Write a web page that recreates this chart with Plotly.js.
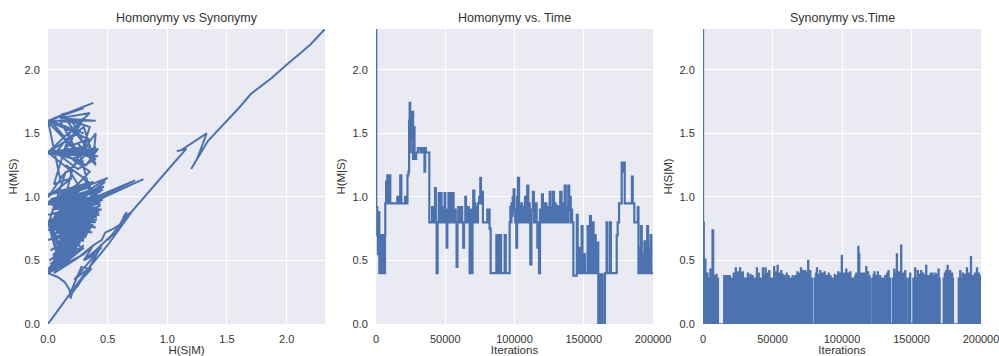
<!DOCTYPE html>
<html>
<head>
<meta charset="utf-8">
<script src="https://cdn.plot.ly/plotly-3.0.1.min.js"></script>
<style>html,body{margin:0;padding:0;background:#fff;}#chart{width:999px;height:356px;}</style>
</head>
<body>
<div id="chart"></div>
<script>
// ---------- Data ----------
// Panel 1: trajectory, pairs of [H(S|M), H(M|S)]
const scPath = [
  [2.32,2.32],[2.2,2.2],[2.1,2.12],[2.03,2.06],[2.09,2.11],[2.0,2.04],[1.88,1.94],[1.7,1.81],[1.6,1.7],[1.47,1.57],[1.34,1.44],[1.2,1.22],[1.25,1.3],[1.33,1.5],[1.12,1.37],[1.08,1.36],[1.16,1.38],[1.02,1.23],[0.9,1.1],[0.8,0.99],[0.72,0.9],[0.68,0.86],[0.63,0.84],[0.66,0.88],[0.6,0.78],[0.55,0.75],[0.48,0.72],[0.45,0.66],[0.38,0.62],
  [0.3,0.55],[0,0.4],[0.30,0.62],[0.01,0.41],[0.28,0.66],[0,0.4],[0.32,0.70],[0.02,0.42],[0.25,0.60],[0,0.4],[0.35,0.74],[0.01,0.41],[0.22,0.58],[0,0.4],[0.3,0.68],[0.02,0.41],[0.27,0.64],[0,0.4],[0.33,0.72],[0.01,0.42],[0.2,0.55],[0,0.4],[0.36,0.78],[0.02,0.41],[0.24,0.63],[0,0.4],[0.29,0.71],[0.01,0.41],[0.18,0.52],[0,0.4],[0.31,0.76],[0.02,0.42],[0.26,0.69],[0,0.4],[0.34,0.8],[0.01,0.41],[0.23,0.66],[0,0.4],[0.14,0.48],[0.3,0.6],
  [0.0,0.42],[0.22,0.6],[0.03,0.46],[0.26,0.64],[0.01,0.5],[0.28,0.68],[0.04,0.54],[0.3,0.72],[0.02,0.58],[0.32,0.74],[0.05,0.62],[0.34,0.77],[0.0,0.66],[0.36,0.8],[0.03,0.7],[0.38,0.83],[0.0,0.74],[0.4,0.86],[0.06,0.48],[0.2,0.56],[0.08,0.52],[0.24,0.62],[0.1,0.56],[0.27,0.67],[0.12,0.6],[0.3,0.7],[0.07,0.64],[0.33,0.75],[0.09,0.68],[0.35,0.79],[0.11,0.72],[0.37,0.82],[0.0,0.43],[0.18,0.58],[0.02,0.47],[0.21,0.63],[0.04,0.51],[0.25,0.69],[0.06,0.55],[0.29,0.74],[0.08,0.59],[0.31,0.78],[0.1,0.63],[0.34,0.83],
  [0,0.95],[0.4,1.05],[0.01,0.95],[0.35,0.85],[0,0.96],[0.3,1.1],[0.02,0.95],[0.45,1.0],[0,0.95],[0.25,1.08],[0.01,0.96],[0.42,0.9],[0,0.95],[0.38,1.12],[0.02,0.95],[0.2,1.05],[0,0.95],[0.47,1.08],[0.01,0.96],[0.33,0.95],[0,0.95],[0.4,0.98],[0.02,0.95],[0.28,0.9],[0,0.95],[0.44,1.04],[0.01,0.96],[0.36,1.1],[0,0.95],[0.22,0.98],[0.5,1.15],[0.15,1.02],
  [0.2,1.2],[0,1.35],[0.35,1.32],[0.02,1.35],[0.4,1.38],[0,1.36],[0.3,1.37],[0.01,1.35],[0.38,1.34],[0,1.35],[0.25,1.5],[0,1.6],[0.38,1.74],[0.05,1.62],[0.3,1.7],[0,1.6],[0.2,1.67],[0.12,1.65],[0.22,1.52],[0.3,1.42],[0.2,1.6],[0.35,1.55],[0.28,1.35],[0.4,1.5],[0.38,1.3],[0.25,1.42],[0.4,1.25],[0.3,1.55],[0.15,1.45],[0.05,1.33],[0.38,1.36],[0.1,1.35],[0.32,1.25],[0.42,1.38],[0.2,1.3],[0.35,1.2],[0.25,1.1],[0.15,1.25],[0.3,1.15],[0.35,1.05],[0.28,1.3],[0.1,1.6],[0.25,1.58],[0.18,1.4],[0.33,1.45],[0.22,1.25],[0.4,1.4],[0.1,1.15],
  [0,1.6],[0.35,1.45],[0.02,1.6],[0.3,1.5],[0,1.59],[0.25,1.35],[0.02,1.6],[0.4,1.6],[0.1,1.62],[0.35,1.66],[0,1.35],[0.3,1.28],[0.02,1.35],[0.42,1.32],[0,1.34],[0.36,1.4],[0.05,1.36],[0.25,1.22],[0.4,1.3],[0.15,1.38],[0.3,1.62],[0.18,1.5],[0.05,1.1],[0.2,1.15],[0.0,1.0],[0.15,1.2],
  [0,0.78],[0.4,0.88],[0.02,0.82],[0.42,0.92],[0,0.86],[0.44,0.96],[0.03,0.9],[0.43,1.0],[0,0.94],[0.4,1.04],[0.02,0.98],[0.36,1.08],[0,1.02],[0.3,1.1],[0.05,0.84],[0.38,0.8],[0.08,0.88],[0.41,0.84],[0.04,0.92],[0.45,0.9],[0.07,0.96],[0.44,0.94],[0.1,1.0],[0.42,0.98],[0.06,1.04],[0.38,1.02],[0.12,0.8],[0.4,0.76],[0.15,0.84],[0.43,0.86],[0.1,0.9],[0.46,1.02],[0.14,0.95],[0.35,1.12],[0.08,1.0],[0.25,1.1],[0.18,0.92],[0.39,0.9],[0.2,0.8],[0.37,0.72],
  [0,0.8],[0.4,0.85],[0.01,0.8],[0.35,0.72],[0,0.81],[0.42,0.95],[0.02,0.8],[0.3,0.65],[0,0.8],[0.45,1.0],[0.01,0.81],[0.38,0.78],[0,0.8],[0.4,0.9],[0.02,0.8],[0.28,0.6],[0,0.8],[0.43,0.88],[0.01,0.81],[0.32,0.68],[0,0.8],[0.44,0.93],[0.02,0.8],[0.36,0.75],[0,0.8],[0.41,0.82],[0.01,0.81],[0.25,0.58],[0,0.8],[0.46,0.98],[0.02,0.8],[0.33,0.7],[0,0.8],[0.39,0.87],[0.01,0.81],[0.3,0.66],[0,0.8],[0.42,0.92],[0.02,0.8],[0.37,0.8],[0,0.8],[0.15,0.5],[0.02,0.8],[0.1,0.46],[0,0.8],[0.48,1.12],[0.1,0.85],[0.73,1.13],[0.15,0.9],[0.4,0.8],[0.05,0.82],[0.8,1.14],[0.2,0.88],[0.4,1.03],[0.05,0.7],[0.2,0.62],[0.08,0.6],[0.3,0.8],[0.05,0.55],[0.25,0.75],[0.1,0.65],[0.38,0.98],[0.12,0.75],[0.45,1.1],
  [0.1,0.45],[0.35,0.8],[0.05,0.42],[0.3,0.72],[0.1,0.5],[0.38,0.85],[0,0.4],[0.08,0.37],[0.14,0.33],[0.18,0.27],[0.19,0.2],[0.2,0.24],[0.3,0.37],[0.36,0.43],[0.28,0.45],[0.19,0.25],[0.25,0.3],[0.34,0.44],[0.3,0.4],[0.36,0.45],[0.22,0.35],[0.4,0.55],[0.3,0.5],[0.45,0.62],[0.35,0.45],[0,0],[0.15,0.2],[0.35,0.45],[0.5,0.62],[0.6,0.75],[0.7,0.88],[0.65,0.85],[0.6,0.77],[0.67,0.86],[0.55,0.7],[0.62,0.8],[0.5,0.66],[0.58,0.74],[0.4,0.58],[0.45,0.6],[0.3,0.5],[0.38,0.62],[0.25,0.52],[0.05,0.4],[0.42,0.9],[0,0.8],[0.35,0.92],[0.1,0.95],[0.46,1.06],[0.02,0.8],[0.3,0.85],[0,0.95],[0.4,1.0]
];

// Panel 2: H(M|S) step levels, pairs of [iteration, value]
const homSteps = [
  [0,2.32],[200,0.92],[900,0.70],[1400,0.55],[1900,0.88],[2400,0.40],[2900,0.70],[3200,0.40],[3500,0.70],[3800,0.40],[4100,0.70],[4400,0.40],[4700,0.70],[5000,0.40],[5300,0.70],[5600,0.40],[5900,0.70],[6200,0.40],[6500,0.70],[6700,0.95],[7300,1.12],[7700,0.95],[8200,1.17],[8600,0.95],[9100,1.17],[9500,0.95],[9900,1.17],[10300,0.95],[15400,1.0],[15900,0.95],[17500,1.17],[18300,0.95],[21000,1.0],[21500,0.95],[22700,1.17],[23400,1.2],[23900,1.6],[24300,1.74],[24700,1.35],[25100,1.6],[25500,1.45],[26000,1.55],[26300,1.67],[26800,1.3],[27300,1.55],[27800,1.35],[28300,1.3],[29000,1.35],[30200,1.385],[32000,1.35],[33000,1.385],[34500,1.35],[35000,1.2],[35500,1.385],[36000,1.35],[38500,0.8],
  [40500,0.92],[41000,0.8],[42600,1.07],[43200,0.8],[43800,0.4],[44500,0.8],[45300,1.03],[45800,0.8],[46300,0.92],[46800,1.03],[47300,0.8],[48200,0.92],[48600,0.8],[49000,0.9],[49500,1.03],[50000,0.8],[51000,0.6],[51500,0.9],[52300,1.03],[53000,0.8],[53500,0.92],[54000,1.03],[54600,0.9],[55000,0.8],[55500,1.03],[56000,0.8],[57000,0.9],[57600,0.8],[58200,0.45],[58800,0.8],[59400,0.92],[60000,0.8],[60500,0.92],[61000,0.8],[61600,0.92],[62200,0.8],[63000,0.6],[63600,0.8],[64500,1.0],[65000,0.8],[65500,0.92],[66000,0.8],[66500,0.92],[67000,0.8],[67600,0.4],[68400,0.9],[69000,0.4],[69700,0.8],[70200,1.05],[71000,0.95],[71600,0.8],[72300,0.92],[72800,0.8],[73600,0.95],[74500,1.0],[75300,1.15],[75800,0.95],[76500,1.04],[77200,0.8],[80400,0.9],[82000,0.75],[82800,0.4],
  [86900,0.7],[87300,0.4],[87800,0.7],[88300,0.4],[88800,0.7],[89300,0.4],[89800,0.7],[90300,0.4],[92900,0.7],[93700,0.4],
  [96500,0.8],[97000,0.92],[97500,0.8],[97800,0.95],[98200,0.85],[98700,1.0],[99400,1.06],[100000,0.9],[100500,0.8],[101300,0.6],[101900,1.0],[102500,1.15],[103300,0.8],[104000,0.92],[104500,0.8],[105000,0.95],[105500,0.8],[106300,0.92],[107000,0.8],[107600,1.0],[108200,0.8],[109200,1.09],[110000,0.8],[110600,0.95],[111000,0.8],[111400,0.47],[112200,0.9],[113300,1.04],[114000,0.8],[114700,0.92],[115200,0.8],[115500,0.95],[116000,0.8],[116500,0.6],[117200,0.8],[117700,0.4],[118400,0.9],[119000,0.8],[119800,1.02],[120500,0.8],[121200,0.92],[121600,0.8],[122000,0.95],[123000,0.8],[123800,0.92],[124300,0.8],[125400,1.04],[126000,0.9],[126600,0.8],[127200,0.92],[127800,1.04],[128500,0.8],[129300,0.95],[129700,0.8],[130000,0.93],[131000,0.8],[131800,0.92],[132300,0.8],[133000,1.04],[134000,0.8],[134800,0.95],[135300,0.8],[136200,1.09],[137000,0.8],[137700,0.92],[138200,0.8],[138800,1.09],[139500,0.9],[140200,1.0],[140600,0.8],[141000,0.9],[141600,0.8],
  [142500,0.38],[145000,0.86],[145600,0.4],[146500,0.6],[146900,0.4],[148500,0.77],[149100,0.4],[150500,0.55],[150900,0.4],[152800,0.77],[153500,0.4],[154500,0.85],[155200,0.4],[156500,0.8],[157100,0.4],[158000,0.7],[158600,0.4],[160000,0.64],[160500,0],[161500,0.39],[162000,0],[163000,0.39],[163600,0],[165300,0.4],[166500,0.8],[167100,0.4],[169000,0.8],[169600,0.4],[173800,0.7],[174500,0.8],[175500,0.95],[177400,1.27],[178200,1.2],[179000,1.27],[179600,0.95],[184800,1.16],[185400,0.95],[186500,0.8],[189000,0.92],[189500,0.4],[190500,0.6],[190900,0.4],[191300,0.77],[191900,0.4],[193000,0.55],[193400,0.4],[193800,0.65],[194300,0.4],[195800,0.77],[196400,0.4],[197300,0.6],[197700,0.4],[198200,0.7],[198800,0.4],[200000,0.4]
];

// Panel 3: H(S|M) step levels, pairs of [iteration, value]
const synSteps = [
  [0,2.32],[300,0.80],[800,0.10],[1100,0.51],[2000,0.36],[3000,0.40],[3500,0.36],[5000,0.43],[5500,0.36],[6600,0.74],[7600,0.38],[8600,0.36],[9500,0.39],[10000,0.36],[11000,0],
  [15000,0.38],[16600,0],[17400,0.38],[19600,0],
  [20600,0.36],[21800,0.40],[22300,0.36],[23300,0.44],[23900,0.36],[24800,0.41],[25300,0.36],[26400,0.44],[27000,0.40],[28400,0.41],[29000,0.36],[30200,0],
  [30800,0.36],[32000,0.40],[32600,0.36],[33800,0.39],[34300,0.36],[35400,0.38],[36000,0.36],[37200,0],
  [37700,0.36],[38500,0.44],[39100,0.36],[39900,0.40],[40400,0.36],[41000,0],
  [42000,0.36],[42800,0.44],[43400,0.38],[44700,0.44],[45300,0.36],[46200,0.40],[46700,0.36],[47400,0.42],[48000,0.36],[49000,0],
  [49500,0.36],[50900,0.45],[51500,0.38],[52400,0.41],[52900,0.36],[53400,0.46],[54000,0.36],[55000,0.40],[55500,0.36],[56000,0.42],[56600,0.36],[57400,0.39],[57900,0.36],[58200,0.38],[58800,0.36],[60000,0.40],[60500,0.36],[61300,0.38],[61800,0.36],[62100,0],
  [63100,0.36],[64200,0.38],[64700,0.36],[66100,0.38],[66700,0.36],[67600,0.41],[68100,0.36],[68500,0.40],[69100,0.36],[70200,0.44],[70800,0.38],[71700,0.42],[72200,0.36],[73300,0.42],[73900,0.36],[74600,0.40],[75100,0.36],[75400,0.50],[76000,0.36],[76900,0.42],[77500,0.36],[79000,0],
  [80400,0.36],[81000,0.40],[81400,0.36],[81700,0.44],[82300,0.36],[83200,0.39],[83700,0.36],[84100,0.42],[84700,0.36],[85600,0.40],[86100,0.36],[87200,0.41],[87800,0.36],[88700,0.38],[89200,0.36],[90100,0.40],[90700,0.36],[91500,0.38],[92000,0.36],[92600,0],
  [93700,0.36],[94500,0.39],[95000,0.36],[95500,0.38],[96100,0.36],[97000,0.41],[97600,0.36],[98300,0.40],[98800,0.36],[99600,0.54],[100200,0.36],[101200,0.40],[101700,0.36],[102800,0.43],[103400,0.36],[104500,0.40],[105000,0.36],[105700,0.41],[106300,0.36],[107700,0],
  [108600,0.36],[109300,0.38],[109700,0.36],[110000,0.40],[110600,0.36],[111500,0.61],[112100,0.55],[112700,0.36],[113600,0.40],[114100,0.36],[114500,0.40],[115100,0.36],[116100,0.40],[116600,0.36],[117200,0.45],[117800,0.36],[118600,0.41],[119100,0.36],[119600,0.38],[120000,0.36],[120600,0],
  [121800,0.36],[122500,0.39],[122900,0.36],[123100,0.41],[123700,0.36],[124500,0.38],[124900,0.36],[125500,0.41],[126100,0.36],[127200,0.38],[127800,0.36],[129000,0],
  [130000,0.36],[130800,0.38],[131300,0.36],[132200,0.40],[132600,0.36],[133200,0.42],[133800,0.36],[135000,0],
  [136500,0.36],[137300,0.43],[137900,0.36],[138500,0.40],[139000,0.36],[139200,0.55],[139800,0.36],[140700,0.41],[141200,0.36],[142300,0.62],[142900,0.36],[143800,0.40],[144300,0.36],[145200,0.42],[145800,0.36],[146800,0],
  [148000,0.36],[148800,0.40],[149400,0],
  [151100,0.36],[152400,0.44],[153000,0.36],[154300,0.42],[154900,0.36],[155700,0.39],[156200,0.36],[156700,0.42],[157300,0.36],[158300,0.40],[158800,0.36],[159500,0.38],[159900,0.36],[160300,0.46],[160900,0.36],[162000,0.38],[162600,0.36],[163500,0.40],[164000,0.36],[164900,0.40],[165500,0.36],[166200,0.38],[166600,0.36],[167000,0.40],[167600,0.36],[168400,0.39],[168800,0.36],[169200,0.43],[169800,0.36],[170500,0],
  [172900,0.36],[173700,0.40],[174200,0.36],[174600,0.42],[175700,0.46],[176300,0.36],[177000,0.40],[177500,0.42],[178100,0.36],[179000,0.40],[179500,0.36],[180100,0],
  [183700,0.36],[184800,0.42],[185400,0.36],[186700,0.40],[187300,0.36],[188300,0.39],[188800,0.36],[189600,0.44],[190200,0.36],[191200,0.40],[191700,0.36],[192500,0.53],[193100,0.36],[194000,0.38],[194500,0.36],[195400,0.40],[195900,0.36],[196800,0.44],[197400,0.36],[198300,0.40],[198800,0.36],[199500,0.38],[200000,0.36]
];

const titles = ["Homonymy vs Synonymy", "Homonymy vs. Time", "Synonymy vs.Time"];
const xTitles = ["H(S|M)", "Iterations", "Iterations"];
const yTitles = ["H(M|S)", "H(M|S)", "H(S|M)"];
const hTicks = [0, 0.5, 1.0, 1.5, 2.0];
const hTickText = ["0.0", "0.5", "1.0", "1.5", "2.0"];
const iterTicks = [0, 50000, 100000, 150000, 200000];
const iterTickText = ["0", "50000", "100000", "150000", "200000"];
const hMax = 2.3219;
const iterMax = 200000;

// ---------- Styling ----------
const blue = "#4C72B0";
const textColor = "#333333";
const fontFam = "Liberation Sans, Arial, sans-serif";

const traces = [
  {x: scPath.map(p => p[0]), y: scPath.map(p => p[1]), type: "scatter", mode: "lines",
   line: {color: blue, width: 2}, xaxis: "x", yaxis: "y", hoverinfo: "skip"},
  {x: homSteps.map(p => p[0]), y: homSteps.map(p => p[1]), type: "scatter", mode: "lines",
   line: {color: blue, width: 2.2, shape: "hv"}, xaxis: "x2", yaxis: "y2", hoverinfo: "skip"},
  {x: synSteps.map(p => p[0]), y: synSteps.map(p => p[1]), type: "scatter", mode: "lines", fill: "tozeroy", fillcolor: blue,
   line: {color: blue, width: 1.5, shape: "hv"}, xaxis: "x3", yaxis: "y3", hoverinfo: "skip"}
];

const domainsX = [[48/999, 325/999], [376/999, 653/999], [703/999, 981/999]];
const domY = [1 - 324/356, 1 - 29/356];

function xAxis(i) {
  const base = {
    domain: domainsX[i], anchor: i === 0 ? "y" : "y" + (i + 1),
    showgrid: true, gridcolor: "#ffffff", gridwidth: 1, zeroline: false, showline: false,
    ticks: "outside", ticklen: 5, tickcolor: "rgba(0,0,0,0)", ticklabeloverflow: "allow",
    tickfont: {size: 11, color: textColor, family: fontFam},
    title: {text: xTitles[i], font: {size: 11.5, color: textColor, family: fontFam}, standoff: 1},
    automargin: false, fixedrange: true
  };
  if (i === 0) {
    base.range = [0, hMax]; base.tickvals = hTicks; base.ticktext = hTickText;
  } else {
    base.range = [0, iterMax]; base.tickvals = iterTicks; base.ticktext = iterTickText;
  }
  return base;
}
function yAxis(i) {
  return {
    domain: domY, anchor: i === 0 ? "x" : "x" + (i + 1), range: [0, hMax],
    tickvals: hTicks, ticktext: hTickText,
    showgrid: true, gridcolor: "#ffffff", gridwidth: 1, zeroline: false, showline: false,
    ticks: "outside", ticklen: 5, tickcolor: "rgba(0,0,0,0)", ticklabeloverflow: "allow",
    tickfont: {size: 11, color: textColor, family: fontFam},
    title: {text: yTitles[i], font: {size: 11.5, color: textColor, family: fontFam}, standoff: 4},
    automargin: false, fixedrange: true
  };
}

const layout = {
  width: 999, height: 356,
  margin: {l: 0, r: 0, t: 0, b: 0},
  paper_bgcolor: "#ffffff", plot_bgcolor: "#EAEAF2",
  showlegend: false,
  font: {family: fontFam, color: textColor},
  xaxis: xAxis(0), yaxis: yAxis(0),
  xaxis2: xAxis(1), yaxis2: yAxis(1),
  xaxis3: xAxis(2), yaxis3: yAxis(2),
  annotations: titles.map((t, i) => ({
    text: t, xref: "paper", yref: "paper",
    x: (domainsX[i][0] + domainsX[i][1]) / 2, y: 1 - 18/356,
    xanchor: "center", yanchor: "middle", showarrow: false,
    font: {size: 12.5, color: textColor, family: fontFam}
  }))
};

Plotly.newPlot("chart", traces, layout, {staticPlot: true, displayModeBar: false});
</script>
</body>
</html>
